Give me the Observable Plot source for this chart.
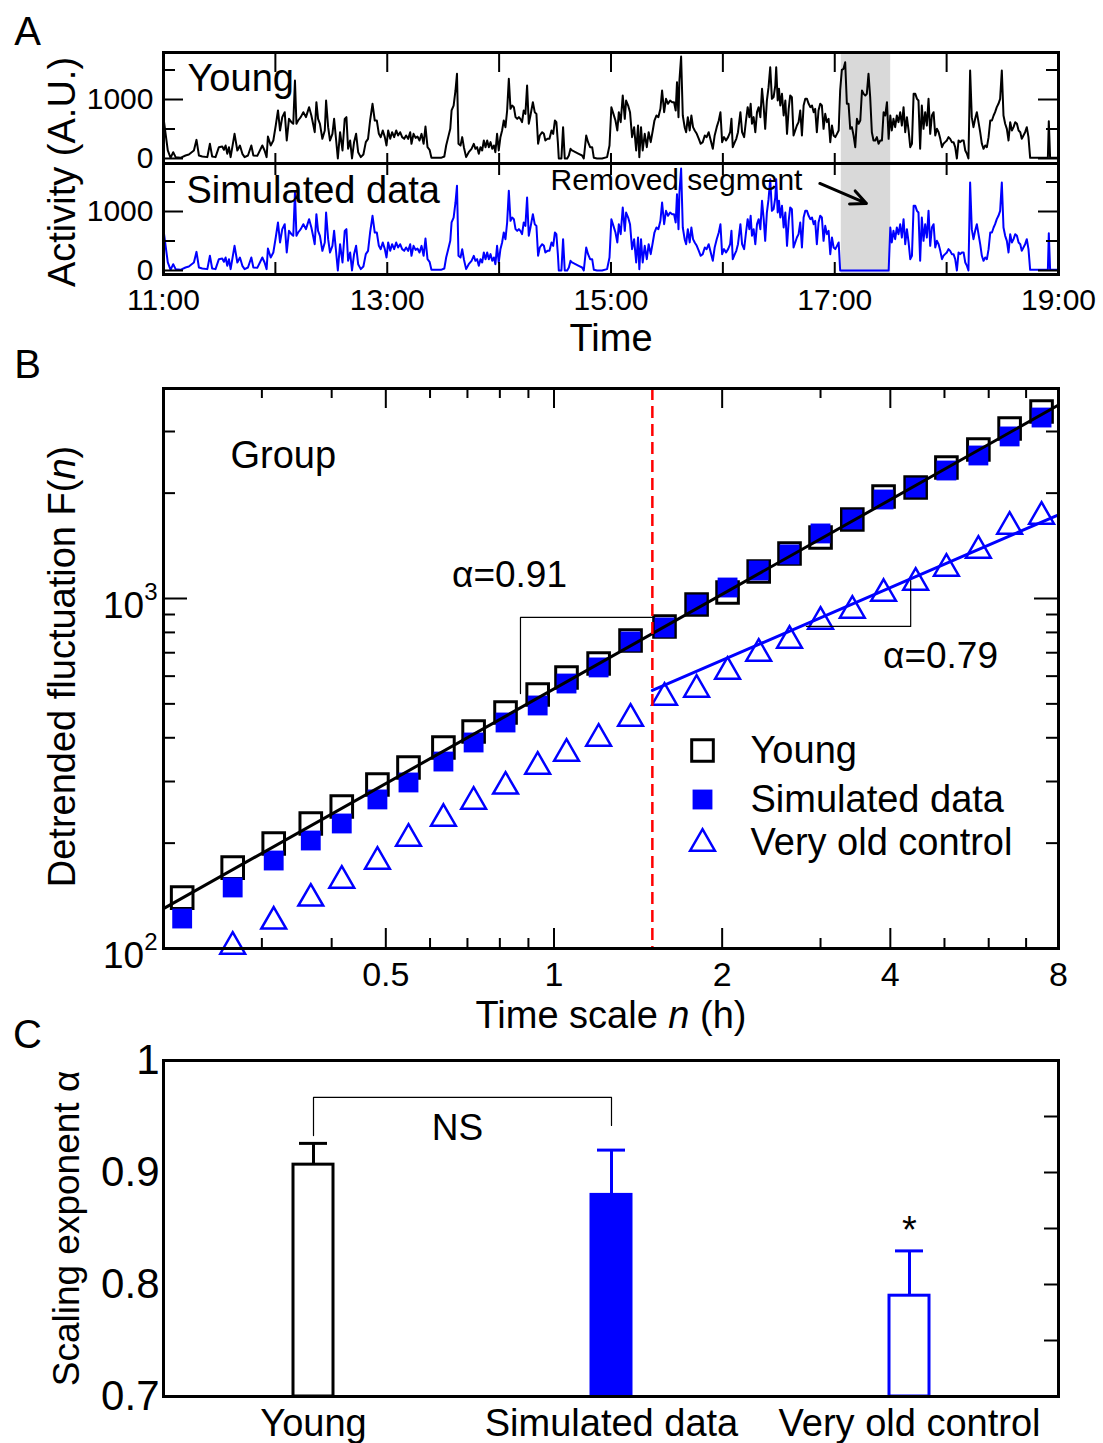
<!DOCTYPE html>
<html>
<head>
<meta charset="utf-8">
<script src="https://cdn.jsdelivr.net/npm/d3@7"></script>
<script src="https://cdn.jsdelivr.net/npm/@observablehq/plot@0.6"></script>
<style>
  html, body { margin: 0; padding: 0; background: #fff; }
  #fig { position: relative; width: 1103px; height: 1443px; overflow: hidden; background: #fff;
         font-family: "Liberation Sans", Arial, Helvetica, sans-serif; }
  #fig svg { position: absolute; left: 0; top: 0; }
</style>
</head>
<body>
<div id="fig"></div>
<script>
// ---------------- DATA ----------------
// Panel A: activity (A.U.) of the young subject, [minutes after 11:00, value]
const activityYoung = [
 [0.3,616],[2.3,136],[3.8,11],[5.2,107],[6.5,23],[9.1,11],[11.8,51],[13.6,68],[16.3,136],[17.7,316],
 [19.0,51],[20.8,34],[23.5,23],[24.9,249],[26.1,34],[27.9,23],[29.7,192],[31.5,203],[32.4,147],[33.3,220],
 [34.2,79],[35.1,192],[36.0,23],[38.1,418],[39.6,136],[41.0,220],[42.3,79],[43.5,23],[45.3,51],[47.1,220],
 [48.2,51],[50.3,45],[53.0,220],[54.2,136],[55.3,23],[56.0,373],[57.5,220],[58.9,305],[60.2,559],[61.4,814],
 [62.5,475],[63.7,701],[65.0,785],[66.1,305],[67.3,672],[68.6,616],[69.6,588],[70.5,1322],[71.3,588],[72.2,644],
 [73.6,701],[75.0,785],[76.4,701],[78.1,870],[79.3,729],[80.4,559],[81.1,446],[82.0,955],[82.9,672],[83.9,588],
 [85.2,333],[86.5,475],[87.2,983],[88.3,531],[89.3,305],[90.6,418],[91.5,672],[92.6,305],[93.5,0],[94.7,446],
 [96.0,136],[97.2,672],[98.1,701],[99.0,164],[100.1,305],[101.1,0],[102.2,277],[103.3,418],[104.4,107],[105.8,23],
 [107.2,68],[108.5,277],[109.7,333],[110.8,644],[112.1,927],[113.3,644],[114.4,644],[115.5,418],[116.5,362],[117.6,475],
 [118.7,362],[119.6,220],[120.5,475],[121.6,333],[122.6,446],[123.7,362],[124.8,475],[125.8,390],[126.9,446],[128.0,362],
 [129.1,333],[130.1,390],[131.2,333],[132.3,446],[133.0,249],[134.1,418],[135.2,350],[136.2,373],[137.3,305],[138.4,418],
 [139.5,249],[140.5,542],[141.6,192],[142.7,147],[143.7,11],[146.1,11],[148.8,11],[150.6,34],[151.6,220],[152.7,362],
 [153.8,503],[154.5,814],[155.6,898],[156.6,1153],[157.4,1435],[158.2,249],[159.3,220],[160.2,362],[161.1,192],[162.3,23],
 [163.7,107],[165.2,164],[166.4,249],[167.3,164],[168.2,192],[169.1,79],[170.0,192],[170.9,136],[171.8,305],[172.7,192],
 [173.6,305],[174.5,192],[175.4,277],[176.3,164],[177.2,220],[178.0,107],[178.9,418],[179.8,136],[180.7,362],[181.6,475],
 [182.5,644],[183.4,531],[184.3,814],[185.2,1350],[186.1,842],[187.0,898],[187.9,870],[188.8,701],[189.7,672],[190.6,701],
 [191.4,672],[192.3,616],[193.2,814],[194.1,757],[195.0,1237],[195.9,588],[196.8,729],[198.1,955],[199.1,785],[200.0,757],
 [200.9,249],[201.8,390],[203.1,446],[204.0,418],[204.8,305],[205.9,333],[207.0,333],[208.1,475],[209.0,418],[209.9,644],
 [210.7,616],[211.5,277],[212.0,0],[213.4,0],[214.3,531],[215.2,0],[216.5,0],[217.4,51],[218.3,164],[219.1,136],
 [220.9,107],[222.7,79],[224.5,51],[225.4,0],[226.7,390],[227.7,277],[228.8,192],[229.9,192],[230.8,11],[232.5,0],
 [235.2,0],[237.9,23],[239.2,220],[240.2,870],[241.3,757],[242.4,644],[243.4,475],[244.2,785],[245.2,616],[246.3,1068],
 [247.4,672],[248.1,983],[249.2,898],[250.2,785],[251.3,362],[252.4,531],[253.5,136],[254.5,559],[255.2,23],[256.1,531],
 [257.0,136],[258.1,418],[259.2,192],[260.2,446],[261.3,277],[262.4,475],[263.3,644],[264.4,729],[265.4,701],[266.5,842],
 [267.4,1153],[268.5,785],[269.5,1011],[270.6,927],[271.7,983],[272.8,955],[273.8,955],[274.7,814],[275.4,1294],[276.2,701],
 [276.7,1322],[277.6,1729],[278.5,729],[279.5,531],[280.3,446],[281.2,701],[282.2,475],[283.1,729],[284.0,531],[284.9,475],
 [286.0,418],[287.1,333],[288.1,249],[289.2,277],[290.3,390],[291.3,362],[292.4,446],[293.5,305],[294.6,164],[295.6,390],
 [296.7,531],[297.8,644],[298.7,785],[299.6,277],[300.6,362],[301.7,305],[302.8,362],[303.9,446],[304.6,672],[305.3,192],
 [306.4,277],[307.2,333],[308.1,446],[309.4,785],[310.3,446],[311.4,362],[312.4,644],[313.3,870],[314.2,701],[314.9,927],
 [315.6,588],[316.5,701],[317.4,446],[318.3,785],[319.2,870],[320.1,701],[321.0,1181],[321.9,870],[322.7,503],[323.6,983],
 [324.5,1209],[325.4,1548],[326.3,1011],[327.2,1040],[328.1,1237],[328.6,1548],[329.4,983],[330.1,1181],[330.8,898],[331.7,1096],
 [332.6,729],[333.5,983],[334.4,418],[335.3,842],[336.1,1068],[337.0,1040],[337.9,390],[338.8,475],[339.7,559],[340.6,616],
 [341.5,814],[342.4,390],[343.3,898],[344.2,1011],[345.1,1011],[346.0,927],[346.9,870],[347.8,898],[348.7,785],[349.5,842],
 [350.4,446],[351.3,814],[352.2,927],[353.1,898],[354.0,503],[354.9,757],[355.8,616],[356.7,672],[357.6,277],[358.5,559],
 [359.4,390],[360.3,362],[361.2,418],[362.1,475],[362.9,1153],[363.8,1503],[364.7,1520],[365.6,1633],[366.5,927],[367.4,927],
 [368.3,503],[369.2,531],[370.1,390],[371.0,192],[371.9,672],[372.8,588],[373.7,644],[374.6,1153],[375.5,1096],[376.4,1068],
 [377.2,1096],[378.1,1435],[379.0,1040],[379.9,446],[380.8,305],[381.7,305],[382.6,362],[383.5,249],[384.4,305],[385.3,305],
 [386.2,785],[387.1,729],[388.0,955],[388.9,333],[389.8,729],[390.6,475],[391.5,672],[392.4,531],[393.3,729],[394.2,616],
 [395.1,785],[396.0,559],[396.9,870],[397.8,446],[398.7,701],[399.6,475],[400.5,192],[401.4,249],[402.3,1096],[403.2,1096],
 [404.1,1011],[404.9,983],[405.8,164],[406.7,898],[407.6,503],[408.5,785],[409.4,559],[410.3,1011],[411.2,418],[412.1,729],
 [413.0,785],[413.9,390],[414.8,503],[415.7,446],[416.6,333],[417.5,192],[418.3,249],[419.2,277],[420.1,305],[421.0,362],
 [421.9,333],[422.8,277],[423.7,277],[424.6,192],[425.5,0],[426.4,305],[427.3,277],[428.2,305],[429.1,305],[430.0,136],
 [430.9,79],[431.7,0],[432.6,1492],[433.5,701],[434.4,531],[435.3,672],[436.2,785],[437.1,616],[438.0,446],[438.9,249],
 [439.8,164],[440.7,220],[441.6,192],[442.5,362],[443.4,644],[444.3,644],[445.2,729],[446.0,785],[446.9,870],[447.8,927],
 [448.7,1011],[449.6,1492],[450.5,729],[451.4,588],[452.3,503],[453.2,305],[454.1,616],[455.0,475],[455.9,531],[456.8,616],
 [457.7,588],[458.6,475],[459.5,446],[460.3,333],[461.2,390],[462.1,446],[463.0,531],[463.9,362],[464.8,11],[474.3,11],
 [474.8,633],[475.5,11],[479.1,11]
];
// Removed segment (minutes after 11:00): shaded span, and span set to zero in simulated data
const removedShade = [363.5, 390];
const zeroedSpan = [362.5, 389.5];
// Simulated data = young record with the removed segment replaced by zeros
const activitySimulated = activityYoung.map(([t, v]) => [t, (t > zeroedSpan[0] && t < zeroedSpan[1]) ? 0 : v]);

const timeDomain = [0, 480];
const hourTicks = [0, 60, 120, 180, 240, 300, 360, 420, 480];
const timeLabelTicks = [0, 120, 240, 360, 480];
const timeLabels = ["11:00", "13:00", "15:00", "17:00", "19:00"];
const activityLabelTicks = [0, 1000];
const activityMinorTicks = [500, 1500];
const removedArrow = [[352, 1475, 377, 1136]]; // x1,y1,x2,y2 in (minutes, activity)

// Panel B: DFA fluctuation function
const nHours = [0.216,0.266,0.315,0.367,0.417,0.483,0.549,0.634,0.718,0.819,0.935,1.053,1.202,1.371,1.577,1.80,2.045,2.325,2.64,3.0,3.42,3.89,4.44,5.04,5.75,6.54,7.46];
const fYoung = [139.8,170.3,199.5,227.6,254.5,294.1,328.9,375.2,416.9,472.3,531.8,594.7,652.2,758.6,831.8,961.4,1040,1194,1345,1494,1682,1956,2075,2367,2666,3060,3422];
const fSimulated = [121.8,149.4,178.4,203.5,227.6,266.6,298.1,342.1,387.8,442.3,494.7,571.6,635.4,753.6,826.3,961.4,1075,1202,1336,1534,1682,1918,2075,2321,2562,2904,3289];
const fVeryOld = [null,101.3,119.5,139.0,156.4,177.2,206.2,235.1,263.0,290.4,331.1,360.7,398.1,454.1,521.4,549.5,618.6,696.5,758.6,859.4,924.0,1033,1111,1218,1371,1606,1715];
const fitYoungN = [0.2, 8], fitYoungF = [130, 3570];       // alpha = 0.91
const fitOldN = [1.5, 8],   fitOldF = [546, 1734];         // alpha = 0.79
const crossoverN = [1.5];
const bracket091N = [0.871, 0.871, 1.5], bracket091F = [535, 883, 883];
const bracket079N = [2.83, 4.35, 4.35],  bracket079F = [832, 832, 1125];
const nDomain = [0.2, 8];
const fDomain = [100, 3981];
const nLabelTicks = [0.5, 1, 2, 4, 8];
const nMinorTicks = [0.3, 0.4, 0.6, 0.7, 0.8, 0.9, 3, 5, 6, 7];
const fLabelTicks = [100, 1000];
const fMinorTicks = [200, 300, 400, 500, 600, 700, 800, 900, 2000, 3000];
const legendLabels = ["Young", "Simulated data", "Very old control"];

// Panel C: scaling exponent alpha (mean + SE)
const groups = ["Young", "Simulated data", "Very old control"];
const alphaMean = [0.907, 0.880, 0.790];
const alphaErr = [0.019, 0.040, 0.040];
const alphaDomain = [0.7, 1.0];
const alphaLabelTicks = [0.7, 0.8, 0.9, 1];
const alphaRightTicks = [0.75, 0.8, 0.85, 0.9, 0.95];
const nsBracketGroup = ["Young", "Young", "Simulated data", "Simulated data"];
const nsBracketAlpha = [0.933, 0.967, 0.967, 0.942];
const starAlpha = 0.855;

// ---------------- STYLE / LAYOUT ----------------
const FONT = '"Liberation Sans", Arial, Helvetica, sans-serif';
const W = 1103, H = 1443, L = 163, R = 1058, PW = R - L;
const BLUE = "#0000ff";
const groupFill = {"Young": "white", "Simulated data": BLUE, "Very old control": "white"};
const groupStroke = {"Young": "black", "Simulated data": BLUE, "Very old control": BLUE};
const MID = {lineAnchor: "middle"};

function overlay(top, bottom, opts) {
  return Plot.plot({
    width: W, height: H,
    marginLeft: L, marginRight: W - R, marginTop: top, marginBottom: H - bottom,
    style: {background: "transparent", overflow: "visible", fontFamily: FONT},
    ...opts
  });
}
function xTicks(values, ph, topLen, bottomLen, sw = 2) {
  return [
    Plot.tickX(values, {x: d => d, insetBottom: ph - topLen, stroke: "#000", strokeWidth: sw}),
    Plot.tickX(values, {x: d => d, insetTop: ph - bottomLen, stroke: "#000", strokeWidth: sw})
  ];
}
function yTicks(values, len, sides = ["left", "right"], sw = 2) {
  const out = [];
  if (sides.includes("left")) out.push(Plot.tickY(values, {y: d => d, insetRight: PW - len, stroke: "#000", strokeWidth: sw}));
  if (sides.includes("right")) out.push(Plot.tickY(values, {y: d => d, insetLeft: PW - len, stroke: "#000", strokeWidth: sw}));
  return out;
}
// text placed relative to the frame's top-left corner, centred vertically on (dx, dy)
function label(str, dx, dy, fontSize, textAnchor = "middle", extra = {}) {
  return Plot.text([str], {frameAnchor: "top-left", dx, dy, fontSize, textAnchor, ...MID, ...extra});
}

const fig = document.getElementById("fig");

// ---------- Panel A (top: young) ----------
const aTopY = [-85, 1797];
const aTop = overlay(52, 163, {
  x: {domain: timeDomain, axis: null},
  y: {domain: aTopY, axis: null},
  marks: [
    Plot.rect([removedShade], {x1: d => d[0], x2: d => d[1], y1: aTopY[0], y2: aTopY[1], fill: "#d9d9d9"}),
    Plot.line(activityYoung, {x: d => d[0], y: d => d[1], stroke: "#000", strokeWidth: 2}),
    ...xTicks(hourTicks, 111, 20, 10),
    ...yTicks(activityLabelTicks, 20),
    ...yTicks(activityMinorTicks, 12),
    Plot.frame({stroke: "#000", strokeWidth: 3}),
    Plot.text(activityLabelTicks, {y: d => d, text: d => String(d), frameAnchor: "left", textAnchor: "end", ...MID, dx: -10, fontSize: 30}),
    label("Young", 24, 26, 38, "start"),
    Plot.text(["Activity (A.U.)"], {frameAnchor: "left", textAnchor: "middle", ...MID, rotate: -90, dx: -101, dy: 64, fontSize: 38}),
    label("A", -136, -20, 40)
  ]
});
fig.appendChild(aTop);

// ---------- Panel A (bottom: simulated) ----------
const aBotY = [-68, 1814];
const aBot = overlay(163, 274, {
  x: {domain: timeDomain, axis: null},
  y: {domain: aBotY, axis: null},
  marks: [
    Plot.rect([removedShade], {x1: d => d[0], x2: d => d[1], y1: aBotY[0], y2: aBotY[1], fill: "#d9d9d9"}),
    Plot.line(activitySimulated, {x: d => d[0], y: d => d[1], stroke: BLUE, strokeWidth: 2}),
    ...xTicks(hourTicks, 111, 12, 12),
    ...yTicks(activityLabelTicks, 20),
    ...yTicks(activityMinorTicks, 12),
    Plot.frame({stroke: "#000", strokeWidth: 3}),
    Plot.text(activityLabelTicks, {y: d => d, text: d => String(d), frameAnchor: "left", textAnchor: "end", ...MID, dx: -10, fontSize: 30}),
    Plot.text(timeLabelTicks, {x: d => d, text: (d, i) => timeLabels[i], frameAnchor: "bottom", ...MID, dy: 26, fontSize: 30}),
    Plot.text(["Time"], {frameAnchor: "bottom", ...MID, dy: 64, fontSize: 38}),
    label("Simulated data", 23, 27, 38, "start"),
    label("Removed segment", 513, 17, 30),
    Plot.arrow(removedArrow, {x1: d => d[0], y1: d => d[1], x2: d => d[2], y2: d => d[3], stroke: "#000", strokeWidth: 3, headLength: 16, headAngle: 50})
  ]
});
fig.appendChild(aBot);

// ---------- Panel B ----------
const young = nHours.map((n, i) => ({n, F: fYoung[i]}));
const simulated = nHours.map((n, i) => ({n, F: fSimulated[i]}));
const veryOld = nHours.map((n, i) => ({n, F: fVeryOld[i]})).filter(d => d.F != null);
const fitYoung = fitYoungN.map((n, i) => ({n, F: fitYoungF[i]}));
const fitOld = fitOldN.map((n, i) => ({n, F: fitOldF[i]}));
const br091 = bracket091N.map((n, i) => ({n, F: bracket091F[i]}));
const br079 = bracket079N.map((n, i) => ({n, F: bracket079F[i]}));
const SQ_R = 12.2, SQF_R = 11.2, TRI_R = 9.2;

const bPlot = overlay(388, 948, {
  x: {type: "log", domain: nDomain, axis: null},
  y: {type: "log", domain: fDomain, axis: null},
  marks: [
    ...xTicks(nLabelTicks, 560, 20, 20),
    ...xTicks(nMinorTicks, 560, 10, 10),
    ...yTicks(fLabelTicks, 24),
    ...yTicks(fMinorTicks, 12),
    Plot.dot(young, {x: "n", y: "F", symbol: "square", r: SQ_R, stroke: "#000", strokeWidth: 3, fill: "none"}),
    Plot.dot(simulated, {x: "n", y: "F", symbol: "square", r: SQF_R, fill: BLUE, stroke: "none"}),
    Plot.line(fitYoung, {x: "n", y: "F", stroke: "#000", strokeWidth: 3}),
    Plot.dot(veryOld, {x: "n", y: "F", symbol: "triangle", r: TRI_R, stroke: BLUE, strokeWidth: 2.5, fill: "none"}),
    Plot.line(fitOld, {x: "n", y: "F", stroke: BLUE, strokeWidth: 3}),
    Plot.line(br091, {x: "n", y: "F", stroke: "#000", strokeWidth: 1.2}),
    Plot.line(br079, {x: "n", y: "F", stroke: "#000", strokeWidth: 1.2}),
    Plot.ruleX(crossoverN, {x: d => d, stroke: "#ff0000", strokeWidth: 2.5, strokeDasharray: "12,6"}),
    Plot.frame({stroke: "#000", strokeWidth: 3}),
    // "10^k" tick labels: the exponent is turned into a superscript below
    Plot.text(fLabelTicks, {y: d => d, text: d => "10^" + Math.round(Math.log10(d)), frameAnchor: "left", textAnchor: "end", ...MID, dx: -6, dy: 8, fontSize: 37}),
    Plot.text(nLabelTicks, {x: d => d, text: d => String(d), frameAnchor: "bottom", ...MID, dy: 27, fontSize: 34}),
    Plot.text(["Time scale n (h)"], {frameAnchor: "bottom", ...MID, dy: 67, fontSize: 38}),
    Plot.text(["Detrended fluctuation F(n)"], {frameAnchor: "left", textAnchor: "middle", ...MID, rotate: -90, dx: -101, dy: -2, fontSize: 38}),
    label("Group", 67, 67, 38, "start"),
    label("\u03B1=0.91", 346, 187, 37),
    label("\u03B1=0.79", 777, 268, 37),
    // legend
    Plot.dot([legendLabels[0]], {frameAnchor: "top-left", dx: 539, dy: 362, symbol: "square", r: SQ_R, stroke: "#000", strokeWidth: 3, fill: "none"}),
    Plot.dot([legendLabels[1]], {frameAnchor: "top-left", dx: 539, dy: 411, symbol: "square", r: SQF_R, fill: BLUE, stroke: "none"}),
    Plot.dot([legendLabels[2]], {frameAnchor: "top-left", dx: 539, dy: 455, symbol: "triangle", r: TRI_R, stroke: BLUE, strokeWidth: 2.5, fill: "none"}),
    label(legendLabels[0], 587, 362, 38, "start"),
    label(legendLabels[1], 587, 411, 38, "start"),
    label(legendLabels[2], 587, 454, 38, "start"),
    label("B", -136, -23, 40)
  ]
});
fig.appendChild(bPlot);

// ---------- Panel C ----------
const alphaRows = groups.map((g, i) => ({group: g, mean: alphaMean[i], err: alphaErr[i]}));
const nsBracket = nsBracketGroup.map((g, i) => ({group: g, a: nsBracketAlpha[i]}));
const cPlot = overlay(1060, 1396, {
  x: {domain: groups, paddingInner: 0.866, paddingOuter: 0.433, axis: null},
  y: {domain: alphaDomain, axis: null},
  marks: [
    Plot.ruleX(alphaRows, {x: "group", y1: "mean", y2: d => d.mean + d.err, stroke: d => groupStroke[d.group], strokeWidth: 3}),
    Plot.tickY(alphaRows, {x: "group", y: d => d.mean + d.err, insetLeft: 6, insetRight: 6, stroke: d => groupStroke[d.group], strokeWidth: 3}),
    Plot.barY(alphaRows, {x: "group", y1: alphaDomain[0], y2: "mean", fill: d => groupFill[d.group], stroke: d => groupStroke[d.group], strokeWidth: 3}),
    ...yTicks(alphaRightTicks, 14, ["right"]),
    Plot.line(nsBracket, {x: "group", y: "a", stroke: "#000", strokeWidth: 1.2}),
    Plot.frame({stroke: "#000", strokeWidth: 3}),
    Plot.text(alphaLabelTicks, {y: d => d, text: d => String(d), frameAnchor: "left", textAnchor: "end", ...MID, dx: -4, fontSize: 42}),
    Plot.text(groups, {x: d => d, frameAnchor: "bottom", ...MID, dy: 27, fontSize: 38}),
    Plot.text(["Scaling exponent \u03B1"], {frameAnchor: "left", textAnchor: "middle", ...MID, rotate: -90, dx: -96, fontSize: 37}),
    label("NS", 294, 68, 37),
    Plot.text(["*"], {x: [groups[2]], y: [starAlpha], ...MID, fontSize: 38, dy: 8}),
    label("C", -136, -25, 40)
  ]
});
fig.appendChild(cPlot);

// Rich text: italic "n" in axis titles and superscript exponents on the log axis
d3.select(bPlot).selectAll("text").each(function () {
  const t = this.textContent;
  const sel = d3.select(this);
  const m = /^10\^(\d)$/.exec(t);
  if (m) {
    sel.text(null);
    sel.append("tspan").text("10");
    sel.append("tspan").attr("font-size", 24).attr("dy", "-0.75em").text(m[1]);
    return;
  }
  const parts = t === "Time scale n (h)" ? ["Time scale ", "n", " (h)"]
              : t === "Detrended fluctuation F(n)" ? ["Detrended fluctuation F(", "n", ")"] : null;
  if (!parts) return;
  sel.text(null);
  sel.append("tspan").text(parts[0]);
  sel.append("tspan").attr("font-style", "italic").text(parts[1]);
  sel.append("tspan").text(parts[2]);
});
</script>
</body>
</html>
